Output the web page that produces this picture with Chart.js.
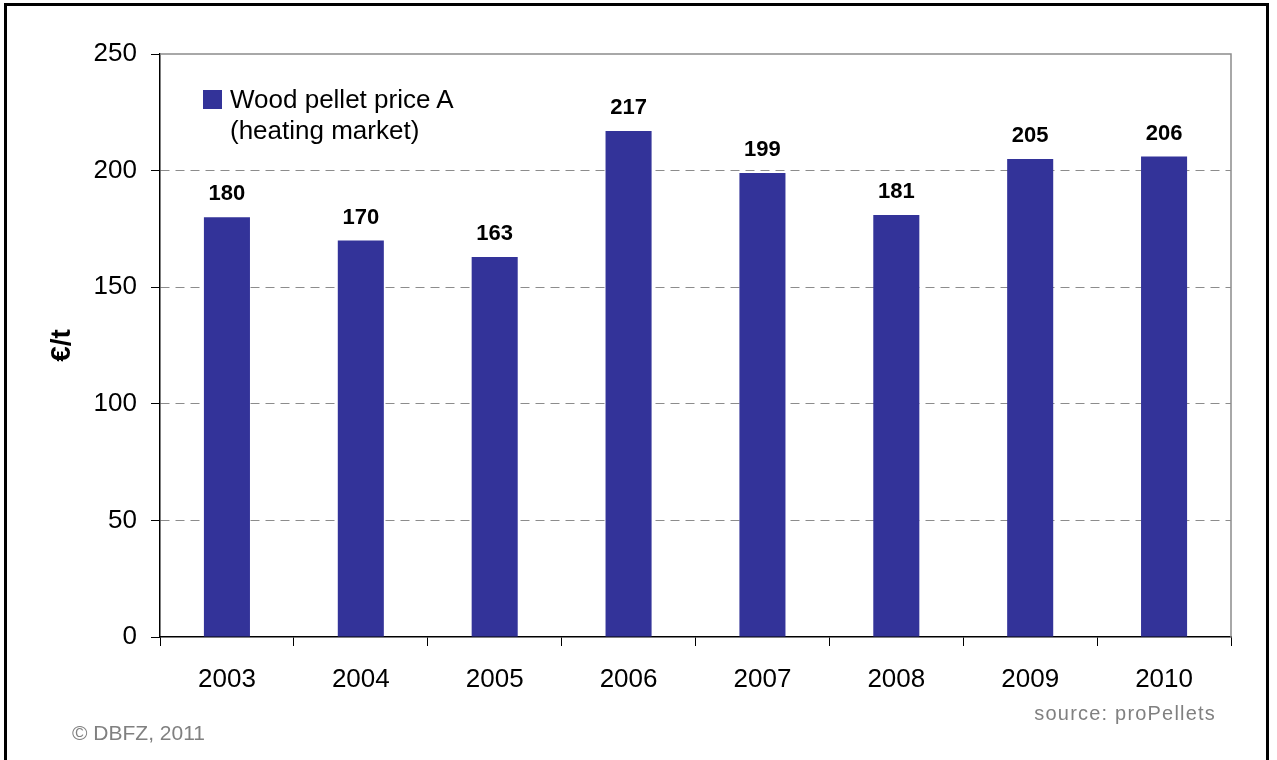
<!DOCTYPE html>
<html>
<head>
<meta charset="utf-8">
<script src="https://cdn.jsdelivr.net/npm/chart.js@4"></script>
<style>
  html, body { margin: 0; padding: 0; background: #fff; }
  #wrap { position: relative; width: 1277px; height: 760px; overflow: hidden; font-family: "Liberation Sans", Arial, sans-serif; }
  #frame { position: absolute; left: 4px; top: 3px; width: 1265px; height: 800px; border: 3px solid #000; box-sizing: border-box; pointer-events: none; }
  canvas { position: absolute; left: 0; top: 0; }
  .legend { position: absolute; left: 203px; top: 84px; }
  .legend .sw { position: absolute; left: 0; top: 6px; width: 19px; height: 19px; background: #333399; }
  .legend .tx { position: absolute; left: 27px; top: 0; font-size: 26px; line-height: 31px; color: #000; white-space: nowrap; }
  .copy { position: absolute; left: 72px; top: 721px; font-size: 21px; color: #808080; white-space: nowrap; }
  .src { position: absolute; right: 61px; top: 702px; font-size: 20px; letter-spacing: 1.2px; color: #808080; white-space: nowrap; }
</style>
</head>
<body>
<div id="wrap">
  <canvas id="c" width="1277" height="760"></canvas>
  <div class="legend"><div class="sw"></div><div class="tx">Wood pellet price A<br>(heating market)</div></div>
  <div class="copy">© DBFZ, 2011</div>
  <div class="src">source: proPellets</div>
  <div id="frame"></div>
</div>
<script>
const years = ['2003', '2004', '2005', '2006', '2007', '2008', '2009', '2010'];
const prices = [180, 170, 163, 217, 199, 181, 205, 206];
const seriesName = 'Wood pellet price A (heating market)';
const yTitle = '€/t';

const FONT = '"Liberation Sans", Arial, sans-serif';

const extras = {
  id: 'extras',
  afterDraw(chart) {
    const ctx = chart.ctx;
    const a = chart.chartArea;
    ctx.save();
    // plot-area border top & right
    ctx.strokeStyle = '#8c8c8c';
    ctx.lineWidth = 1.5;
    ctx.beginPath();
    ctx.moveTo(a.left, a.top);
    ctx.lineTo(a.right, a.top);
    ctx.lineTo(a.right, a.bottom);
    ctx.stroke();
    // data labels
    ctx.fillStyle = '#000';
    ctx.font = 'bold 22px ' + FONT;
    ctx.textAlign = 'center';
    ctx.textBaseline = 'middle';
    const meta = chart.getDatasetMeta(0);
    meta.data.forEach((bar, i) => {
      ctx.fillText(String(prices[i]), bar.x, bar.y - 23);
    });
    ctx.restore();
  }
};

new Chart(document.getElementById('c'), {
  type: 'bar',
  data: {
    labels: years,
    datasets: [{
      label: seriesName,
      data: prices,
      backgroundColor: '#333399',
      borderWidth: 0,
      categoryPercentage: 1.0,
      barPercentage: 0.344
    }]
  },
  options: {
    responsive: false,
    animation: false,
    devicePixelRatio: 1,
    layout: { padding: { left: 0, top: 54, right: 46, bottom: 0 } },
    plugins: {
      legend: { display: false },
      tooltip: { enabled: false }
    },
    scales: {
      x: {
        afterFit(s) { s.height = 123; },
        grid: {
          drawOnChartArea: false,
          offset: true,
          tickLength: 9,
          tickColor: '#000',
          tickWidth: 1
        },
        border: { color: '#000', width: 1.5 },
        ticks: {
          color: '#000',
          font: { family: FONT, size: 26 },
          padding: 18,
          maxRotation: 0
        }
      },
      y: {
        min: 0,
        max: 250,
        afterFit(s) { s.width = 160; },
        ticks: {
          stepSize: 50,
          color: '#000',
          font: { family: FONT, size: 26 },
          padding: 14
        },
        grid: {
          color: (ctx) => (ctx.tick && (ctx.tick.value === 0 || ctx.tick.value === 250)) ? 'rgba(0,0,0,0)' : '#8c8c8c',
          lineWidth: 1,
          tickLength: 9,
          tickColor: '#000',
          tickWidth: 1
        },
        border: { color: '#000', width: 1.5, dash: [9, 6] },
        title: {
          display: true,
          text: yTitle,
          color: '#000',
          font: { family: FONT, size: 28, weight: 'bold' },
          padding: { top: 45, bottom: 0 }
        }
      }
    }
  },
  plugins: [extras]
});
</script>
</body>
</html>
